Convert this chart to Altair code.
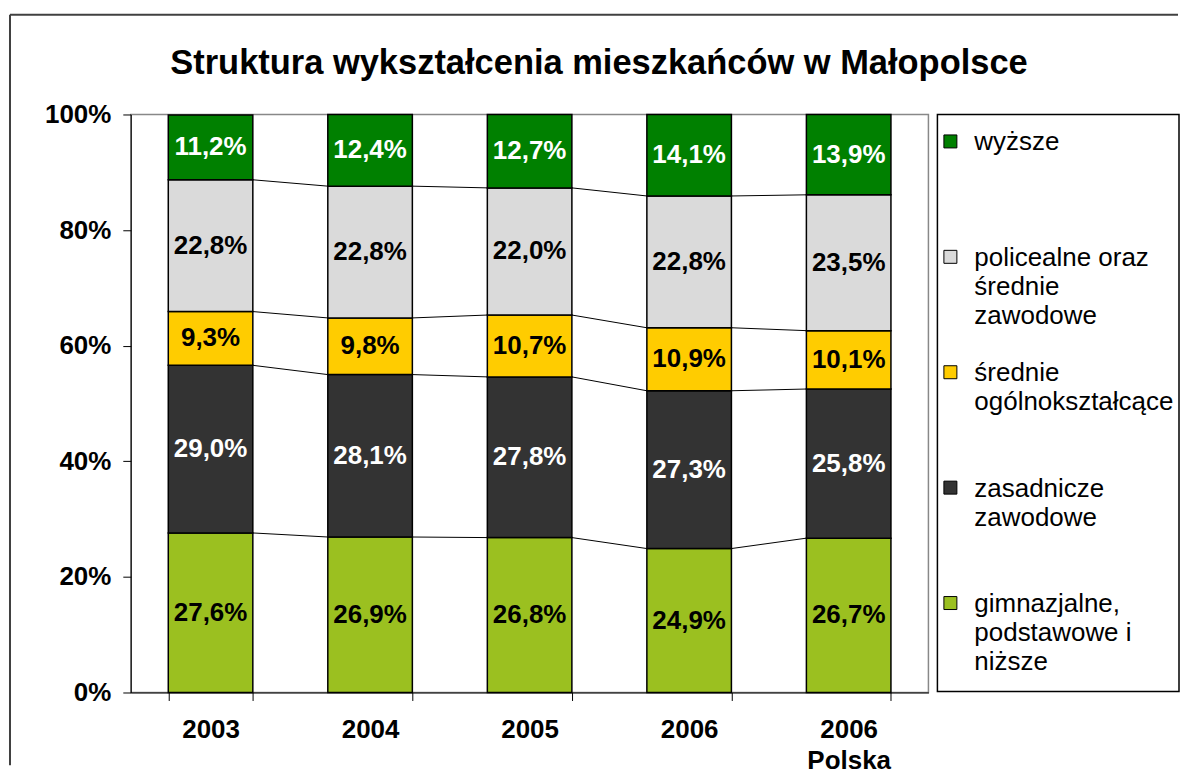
import altair as alt
import pandas as pd

# ---- data ----
categories = ["2003", "2004", "2005", "2006", "2006 Polska"]
series = ["gimnazjalne, podstawowe i niższe", "zasadnicze zawodowe",
          "średnie ogólnokształcące", "policealne oraz średnie zawodowe", "wyższe"]
gimnazjalne = [27.6, 26.9, 26.8, 24.9, 26.7]
zasadnicze = [29.0, 28.1, 27.8, 27.3, 25.8]
srednie_ogolne = [9.3, 9.8, 10.7, 10.9, 10.1]
policealne = [22.8, 22.8, 22.0, 22.8, 23.5]
wyzsze = [11.2, 12.4, 12.7, 14.1, 13.9]
values = [gimnazjalne, zasadnicze, srednie_ogolne, policealne, wyzsze]

legend_labels = ["wyższe", "policealne oraz\nśrednie\nzawodowe", "średnie\nogólnokształcące",
                 "zasadnicze\nzawodowe", "gimnazjalne,\npodstawowe i\nniższe"]
legend_series = ["wyższe", "policealne oraz średnie zawodowe", "średnie ogólnokształcące",
                 "zasadnicze zawodowe", "gimnazjalne, podstawowe i niższe"]
colors = ["#9BC020", "#333333", "#FFCC00", "#DADADA", "#008000"]
text_colors = ["black", "white", "black", "black", "white"]
title = "Struktura wykształcenia mieszkańców w Małopolsce"

FONT = "Liberation Sans, Arial, sans-serif"

# ---- derived tables ----
rows = []
cum = {c: [0.0] for c in categories}
for ci, c in enumerate(categories):
    base = 0.0
    for si, s in enumerate(series):
        v = values[si][ci]
        rows.append({"cat": c, "series": s, "y0": base, "y1": base + v,
                     "mid": base + v / 2, "label": f"{v:.1f}%".replace(".", ","),
                     "tc": text_colors[si]})
        base += v
        cum[c].append(base)
bars_df = pd.DataFrame(rows)

line_rows = []
for i in range(len(categories) - 1):
    a, b = categories[i], categories[i + 1]
    for k in range(1, len(series)):
        line_rows.append({"cat": a, "next": b, "ya": cum[a][k], "yb": cum[b][k]})
lines_df = pd.DataFrame(line_rows)

x_scale = alt.Scale(domain=categories, paddingInner=0.47, paddingOuter=0.235)
y_scale = alt.Scale(domain=[0, 100], nice=False)

x_axis = alt.Axis(title=None, tickBand="extent", labelExpr="split(datum.label, ' ')",
                  labelFont=FONT, labelFontSize=26, labelFontWeight="bold", labelColor="black",
                  labelAngle=0, labelPadding=16, labelLineHeight=31, tickSize=8,
                  tickColor="black", domainColor="black", grid=False)
y_axis = alt.Axis(title=None, values=[0, 20, 40, 60, 80, 100], labelExpr="datum.value + '%'",
                  labelFont=FONT, labelFontSize=26, labelFontWeight="bold", labelColor="black",
                  labelPadding=12, tickSize=8, tickColor="black", domainColor="black", grid=False)

bars = alt.Chart(bars_df).mark_bar(stroke="black", strokeWidth=1.5).encode(
    x=alt.X("cat:N", scale=x_scale, axis=x_axis, sort=categories),
    y=alt.Y("y0:Q", scale=y_scale, axis=y_axis),
    y2="y1:Q",
    color=alt.Color("series:N", scale=alt.Scale(domain=series, range=colors), legend=None),
)

labels = alt.Chart(bars_df).mark_text(font=FONT, fontSize=26, fontWeight="bold",
                                      baseline="middle").encode(
    x=alt.X("cat:N", scale=x_scale, sort=categories),
    y=alt.Y("mid:Q", scale=y_scale),
    text="label:N",
    color=alt.Color("tc:N", scale=None),
)

series_lines = alt.Chart(lines_df).mark_rule(color="black", strokeWidth=1).encode(
    x=alt.X("cat:N", scale=x_scale, bandPosition=1, sort=categories),
    x2=alt.X2("next:N", bandPosition=0),
    y=alt.Y("ya:Q", scale=y_scale),
    y2="yb:Q",
)

title_mark = alt.Chart(pd.DataFrame({"t": [title]})).mark_text(
    font=FONT, fontSize=34.5, fontWeight="bold", align="center", baseline="alphabetic",
    color="black").encode(text="t:N", x=alt.value(469), y=alt.value(-41))

border_left = alt.Chart(pd.DataFrame({"a": [0]})).mark_rule(
    color="#404040", strokeWidth=2, clip=False).encode(
    x=alt.value(-121), y=alt.value(-100), y2=alt.value(652))
border_top = alt.Chart(pd.DataFrame({"a": [0]})).mark_rule(
    color="#404040", strokeWidth=2, clip=False).encode(
    x=alt.value(-121), x2=alt.value(1049), y=alt.value(-100))

main = alt.layer(bars, series_lines, labels, title_mark, border_left, border_top).properties(
    width=799, height=579,
    view=alt.ViewBackground(stroke="#888888", strokeWidth=1.5),
)

# ---- legend panel ----
leg_df = pd.DataFrame({"series": legend_series, "label": legend_labels})
leg_y = alt.Y("series:N", sort=legend_series, bandPosition=0,
              scale=alt.Scale(type="band", paddingInner=0, paddingOuter=0), axis=None)
leg_sym = alt.Chart(leg_df).mark_square(size=169, stroke="black", strokeWidth=1,
                                        opacity=1).encode(
    x=alt.value(13), y=leg_y, yOffset=alt.value(27),
    color=alt.Color("series:N", scale=alt.Scale(domain=series, range=colors), legend=None),
)
leg_txt = alt.Chart(leg_df).mark_text(font=FONT, fontSize=26, align="left", baseline="top",
                                      lineBreak="\n", lineHeight=29, dy=15,
                                      color="black").encode(
    x=alt.value(37), y=leg_y, text="label:N")
legend = alt.layer(leg_sym, leg_txt).properties(
    width=242, height=578,
    view=alt.ViewBackground(stroke="black", strokeWidth=1.5),
)

chart = alt.hconcat(main, legend, spacing=9, bounds="flush").resolve_scale(
    color="independent", y="independent"
).properties(
    padding={"left": 0, "top": 4, "right": 0, "bottom": 0},
    background="white",
)

chart.save("out.html", embed_options={"renderer": "svg", "actions": False})
